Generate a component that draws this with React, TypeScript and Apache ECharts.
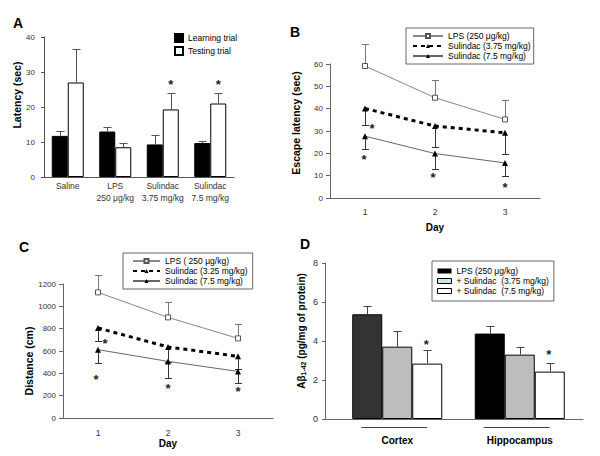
import React, { useEffect, useRef } from "react";
import * as echarts from "echarts";

const FONT = "'Liberation Sans', Arial, sans-serif";

// ---- Panel A ----
const aCategories = ["Saline", "LPS\n250 μg/kg", "Sulindac\n3.75 mg/kg", "Sulindac\n7.5 mg/kg"];
const aLearning = [11.75, 13.0, 9.3, 9.7];
const aLearningUpper = [13.2, 14.3, 12.0, 10.4];
const aTesting = [27.0, 8.5, 19.3, 21.0];
const aTestingUpper = [36.7, 9.8, 23.9, 23.9];
const aStarCats = [2, 3];
const aStarValues = [27.2, 27.2];

// ---- Panel B ----
const days = ["1", "2", "3"];
const bLPS = [59.1, 44.9, 35.2];
const bLPSUpper = [69, 52.8, 43.8];
const bSul375 = [40.1, 32.2, 29.2];
const bSul375Lower = [32.9, 22.7, 19.5];
const bSul75 = [27.7, 19.9, 15.7];
const bSul75Lower = [22.1, 13.2, 9.7];
const bStarDays = [0, 0, 1, 2];
const bStarValues = [32.6, 18.7, 10.6, 6.0];

// ---- Panel C ----
const cLPS = [1125, 901, 713];
const cLPSUpper = [1283, 1035, 842];
const cSul325 = [806, 636, 552];
const cSul325Lower = [692, 505, 440];
const cSul75 = [612, 507, 417];
const cSul75Lower = [492, 358, 313];
const cStarDays = [0, 0, 1, 2];
const cStarValues = [690, 376, 295, 260];

// ---- Panel D ----
const regions = ["Cortex", "Hippocampus"];
const dLPS = [5.37, 4.38];
const dLPSUpper = [5.78, 4.75];
const dSul375 = [3.71, 3.3];
const dSul375Upper = [4.51, 3.71];
const dSul75 = [2.84, 2.43];
const dSul75Upper = [3.52, 2.87];
const dStarRegions = [0, 1];
const dStarValues = [3.95, 3.44];

// style-only constants
const dLPSColors = ["#333333", "#000000"];
const bStarShift = [7, -1, -2, 0];
const cStarShift = [7, -2, 0, 0];

const stripName = (n: string) => n.slice(2);

const errSeries = (axis: number, base: number[], end: number[], dx: number, color: string, cap = 8) => ({
  type: "custom",
  xAxisIndex: axis,
  yAxisIndex: axis,
  z: 3,
  silent: true,
  clip: false,
  data: base.map((v, i) => [i, v, end[i]]),
  renderItem: (params: any, api: any) => {
    const p0 = api.coord([api.value(0), api.value(1)]);
    const p1 = api.coord([api.value(0), api.value(2)]);
    const x = Math.round(p0[0] + dx) + 0.5;
    const y1 = Math.round(p1[1]) + 0.5;
    return {
      type: "group",
      children: [
        { type: "line", shape: { x1: x, y1: p0[1], x2: x, y2: y1 }, style: { stroke: color, lineWidth: 1 } },
        { type: "line", shape: { x1: x - cap / 2, y1: y1, x2: x + cap / 2, y2: y1 }, style: { stroke: color, lineWidth: 1 } },
      ],
    };
  },
});

const starSeries = (axis: number, cats: number[], vals: number[], shifts: number[]) => ({
  type: "custom",
  xAxisIndex: axis,
  yAxisIndex: axis,
  z: 6,
  silent: true,
  clip: false,
  data: cats.map((c, i) => [c, vals[i]]),
  renderItem: (params: any, api: any) => {
    const p = api.coord([api.value(0), api.value(1)]);
    return {
      type: "text",
      x: p[0] + shifts[params.dataIndex],
      y: p[1] + 3,
      style: {
        text: "*",
        fill: "#222",
        fontSize: 13,
        fontWeight: "bold",
        fontFamily: FONT,
        align: "center",
        verticalAlign: "middle",
      },
    };
  },
});

const yLabel = { fontSize: 8, color: "#333", fontFamily: FONT, formatter: (v: number) => String(v) };
const axisLineStyle = { lineStyle: { color: "#666", width: 1 } };
const nameStyle = (size: number, gap: number) => ({
  fontSize: size,
  fontWeight: "bold",
  color: "#000",
  fontFamily: FONT,
  rich: {
    gap: { width: gap, fontSize: size },
    sub: { fontSize: 7, fontWeight: "bold", fontFamily: FONT, padding: [4, 0, 0, 0] },
  },
});

const legendText = { fontSize: 8.5, lineHeight: 10, color: "#000", fontFamily: FONT };

export default function App() {
  const ref = useRef<HTMLDivElement>(null);
  useEffect(() => {
    if (!ref.current) return;
    const chart = echarts.init(ref.current, undefined, { renderer: "svg" });
    const option: any = {
      animation: false,
      backgroundColor: "#fff",
      textStyle: { fontFamily: FONT },
      grid: [
        { left: 44, top: 37, width: 190, height: 140 },
        { left: 330, top: 64, width: 210, height: 134 },
        { left: 63, top: 284, width: 210, height: 134 },
        { left: 325, top: 263, width: 258, height: 156 },
        { left: 336, top: 263, width: 245, height: 156 },
      ],
      xAxis: [
        {
          gridIndex: 0,
          type: "category",
          data: aCategories,
          axisLine: { lineStyle: { color: "#555" } },
          axisTick: { show: false },
          axisLabel: { interval: 0, fontSize: 8.5, color: "#333", lineHeight: 12, margin: 3, fontFamily: FONT },
        },
        {
          gridIndex: 1,
          type: "category",
          data: days,
          axisLine: axisLineStyle,
          axisTick: { length: 3, lineStyle: { color: "#666" } },
          axisLabel: { fontSize: 8.5, color: "#333", margin: 9, fontFamily: FONT },
          name: "Day",
          nameLocation: "middle",
          nameGap: 24,
          nameTextStyle: { fontSize: 10, fontWeight: "bold", color: "#000", fontFamily: FONT },
        },
        {
          gridIndex: 2,
          type: "category",
          data: days,
          axisLine: axisLineStyle,
          axisTick: { length: 3, lineStyle: { color: "#666" } },
          axisLabel: { fontSize: 8.5, color: "#333", margin: 10, fontFamily: FONT },
          name: "Day",
          nameLocation: "middle",
          nameGap: 20,
          nameTextStyle: { fontSize: 10, fontWeight: "bold", color: "#000", fontFamily: FONT },
        },
        {
          gridIndex: 3,
          type: "category",
          data: [""],
          axisLine: axisLineStyle,
          axisTick: { show: false },
          axisLabel: { show: false },
        },
        {
          gridIndex: 4,
          type: "category",
          data: regions,
          axisLine: { show: false },
          axisTick: { show: false },
          axisLabel: { fontSize: 10, fontWeight: "bold", color: "#000", margin: 16, fontFamily: FONT },
        },
      ],
      yAxis: [
        {
          gridIndex: 0,
          type: "value",
          min: 0,
          max: 40,
          interval: 10,
          splitLine: { show: false },
          axisLine: { show: true, lineStyle: { color: "#555" } },
          axisTick: { show: true, length: 3 },
          axisLabel: { ...yLabel, margin: 9 },
          name: "{gap|}Latency (sec)",
          nameLocation: "middle",
          nameGap: 12,
          nameTextStyle: nameStyle(10.5, 24),
        },
        {
          gridIndex: 1,
          type: "value",
          min: 0,
          max: 60,
          interval: 10,
          splitLine: { show: false },
          axisLine: { show: true, ...axisLineStyle },
          axisTick: { show: true, length: 4 },
          axisLabel: { ...yLabel, margin: 7 },
          name: "{gap|}Escape latency (sec)",
          nameLocation: "middle",
          nameGap: 29,
          nameTextStyle: nameStyle(10.5, 16),
        },
        {
          gridIndex: 2,
          type: "value",
          min: 0,
          max: 1200,
          interval: 200,
          splitLine: { show: false },
          axisLine: { show: true, ...axisLineStyle },
          axisTick: { show: true, length: 4 },
          axisLabel: { ...yLabel, margin: 7 },
          name: "Distance (cm){gap|}",
          nameLocation: "middle",
          nameGap: 26,
          nameTextStyle: nameStyle(10.5, 20),
        },
        {
          gridIndex: 3,
          type: "value",
          min: 0,
          max: 8,
          interval: 2,
          splitLine: { show: false },
          axisLine: { show: true, ...axisLineStyle },
          axisTick: { show: true, length: 3 },
          axisLabel: { ...yLabel, fontSize: 9, margin: 7 },
          name: "{gap|}Aβ{sub|1-42} (pg/mg of protein)",
          nameLocation: "middle",
          nameGap: 18,
          nameTextStyle: nameStyle(10, 20),
        },
        { gridIndex: 4, type: "value", min: 0, max: 8, interval: 2, show: false },
      ],
      legend: [
        {
          left: 174,
          top: 33,
          orient: "vertical",
          icon: "rect",
          itemWidth: 8,
          itemHeight: 8,
          itemGap: 3,
          padding: 0,
          selectedMode: false,
          data: ["A:Learning trial", "A:Testing trial"],
          formatter: stripName,
          textStyle: legendText,
        },
        {
          left: 406,
          top: 28,
          orient: "vertical",
          itemWidth: 30,
          itemHeight: 5,
          itemGap: 0,
          padding: [3, 3, 3, 6],
          borderColor: "#666",
          borderWidth: 1,
          selectedMode: false,
          data: ["B:LPS (250 μg/kg)", "B:Sulindac (3.75 mg/kg)", "B:Sulindac (7.5 mg/kg)"],
          formatter: stripName,
          textStyle: legendText,
        },
        {
          left: 123,
          top: 253,
          orient: "vertical",
          itemWidth: 27,
          itemHeight: 5,
          itemGap: 0,
          padding: [3, 5, 3, 9],
          borderColor: "#666",
          borderWidth: 1,
          selectedMode: false,
          data: ["C:LPS ( 250 μg/kg)", "C:Sulindac (3.25 mg/kg)", "C:Sulindac (7.5 mg/kg)"],
          formatter: stripName,
          textStyle: legendText,
        },
        {
          left: 432,
          top: 261,
          orient: "vertical",
          icon: "rect",
          itemWidth: 14,
          itemHeight: 5,
          itemGap: 0,
          padding: [5, 5, 5, 5],
          borderColor: "#666",
          borderWidth: 1,
          selectedMode: false,
          data: [
            { name: "D:LPS (250 μg/kg)", itemStyle: { color: "#000", borderWidth: 0 } },
            { name: "D:+ Sulindac  (3.75 mg/kg)", itemStyle: { color: "#cfe4e6", borderColor: "#000", borderWidth: 1 } },
            { name: "D:+ Sulindac  (7.5 mg/kg)", itemStyle: { color: "#fff", borderColor: "#000", borderWidth: 1 } },
          ],
          formatter: stripName,
          textStyle: legendText,
        },
      ],
      graphic: [
        { type: "text", left: 13, top: 16, style: { text: "A", fontSize: 14, fontWeight: "bold", fontFamily: FONT, fill: "#000" } },
        { type: "text", left: 290, top: 25, style: { text: "B", fontSize: 14, fontWeight: "bold", fontFamily: FONT, fill: "#000" } },
        { type: "text", left: 19, top: 240, style: { text: "C", fontSize: 14, fontWeight: "bold", fontFamily: FONT, fill: "#000" } },
        { type: "text", left: 300, top: 237, style: { text: "D", fontSize: 14, fontWeight: "bold", fontFamily: FONT, fill: "#000" } },
      ],
      series: [
        // Panel A
        {
          name: "A:Learning trial",
          type: "bar",
          xAxisIndex: 0,
          yAxisIndex: 0,
          barWidth: 16,
          barGap: "0%",
          data: aLearning,
          itemStyle: { color: "#000", borderColor: "#000", borderWidth: 1 },
        },
        {
          name: "A:Testing trial",
          type: "bar",
          xAxisIndex: 0,
          yAxisIndex: 0,
          barWidth: 16,
          barGap: "0%",
          data: aTesting,
          itemStyle: { color: "#fff", borderColor: "#000", borderWidth: 1 },
        },
        errSeries(0, aLearning, aLearningUpper, -8, "#555"),
        errSeries(0, aTesting, aTestingUpper, 8, "#555"),
        starSeries(0, aStarCats, aStarValues, [8, 8]),

        // Panel B
        errSeries(1, bLPS, bLPSUpper, 0, "#777", 7),
        errSeries(1, bSul375, bSul375Lower, 0, "#333", 7),
        errSeries(1, bSul75, bSul75Lower, 0, "#333", 7),
        {
          name: "B:LPS (250 μg/kg)",
          type: "line",
          xAxisIndex: 1,
          yAxisIndex: 1,
          data: bLPS,
          symbol: "rect",
          symbolSize: 5,
          itemStyle: { color: "#fff", borderColor: "#555", borderWidth: 1 },
          lineStyle: { color: "#888", width: 1 },
        },
        {
          name: "B:Sulindac (3.75 mg/kg)",
          type: "line",
          xAxisIndex: 1,
          yAxisIndex: 1,
          data: bSul375,
          symbol: "triangle",
          symbolSize: 6,
          itemStyle: { color: "#000" },
          lineStyle: { color: "#000", width: 3, type: [4, 4] },
        },
        {
          name: "B:Sulindac (7.5 mg/kg)",
          type: "line",
          xAxisIndex: 1,
          yAxisIndex: 1,
          data: bSul75,
          symbol: "triangle",
          symbolSize: 6,
          itemStyle: { color: "#000" },
          lineStyle: { color: "#666", width: 1 },
        },
        starSeries(1, bStarDays, bStarValues, bStarShift),

        // Panel C
        errSeries(2, cLPS, cLPSUpper, 0, "#777", 7),
        errSeries(2, cSul325, cSul325Lower, 0, "#333", 7),
        errSeries(2, cSul75, cSul75Lower, 0, "#333", 7),
        {
          name: "C:LPS ( 250 μg/kg)",
          type: "line",
          xAxisIndex: 2,
          yAxisIndex: 2,
          data: cLPS,
          symbol: "rect",
          symbolSize: 5,
          itemStyle: { color: "#fff", borderColor: "#555", borderWidth: 1 },
          lineStyle: { color: "#888", width: 1 },
        },
        {
          name: "C:Sulindac (3.25 mg/kg)",
          type: "line",
          xAxisIndex: 2,
          yAxisIndex: 2,
          data: cSul325,
          symbol: "triangle",
          symbolSize: 6,
          itemStyle: { color: "#000" },
          lineStyle: { color: "#000", width: 3, type: [4, 4] },
        },
        {
          name: "C:Sulindac (7.5 mg/kg)",
          type: "line",
          xAxisIndex: 2,
          yAxisIndex: 2,
          data: cSul75,
          symbol: "triangle",
          symbolSize: 6,
          itemStyle: { color: "#000" },
          lineStyle: { color: "#666", width: 1 },
        },
        starSeries(2, cStarDays, cStarValues, cStarShift),

        // Panel D
        {
          name: "D:LPS (250 μg/kg)",
          type: "bar",
          xAxisIndex: 4,
          yAxisIndex: 4,
          barWidth: 30,
          barGap: "0%",
          data: dLPS.map((v, i) => ({ value: v, itemStyle: { color: dLPSColors[i] } })),
          itemStyle: { color: "#000", borderColor: "#000", borderWidth: 1 },
        },
        {
          name: "D:+ Sulindac  (3.75 mg/kg)",
          type: "bar",
          xAxisIndex: 4,
          yAxisIndex: 4,
          barWidth: 30,
          barGap: "0%",
          data: dSul375,
          itemStyle: { color: "#bdbdbd", borderColor: "#000", borderWidth: 1 },
        },
        {
          name: "D:+ Sulindac  (7.5 mg/kg)",
          type: "bar",
          xAxisIndex: 4,
          yAxisIndex: 4,
          barWidth: 30,
          barGap: "0%",
          data: dSul75,
          itemStyle: { color: "#fff", borderColor: "#000", borderWidth: 1 },
        },
        errSeries(4, dLPS, dLPSUpper, -30, "#444", 8),
        errSeries(4, dSul375, dSul375Upper, 0, "#444", 8),
        errSeries(4, dSul75, dSul75Upper, 30, "#444", 8),
        starSeries(4, dStarRegions, dStarValues, [29, 29]),
        {
          type: "custom",
          xAxisIndex: 4,
          yAxisIndex: 4,
          silent: true,
          clip: false,
          data: regions.map((_, i) => [i, 0]),
          renderItem: (params: any, api: any) => {
            const p = api.coord([api.value(0), 0]);
            const y = Math.round(p[1] + 8) + 0.5;
            return {
              type: "line",
              shape: { x1: p[0] - 36, y1: y, x2: p[0] + 30, y2: y },
              style: { stroke: "#444", lineWidth: 1 },
            };
          },
        },
      ],
    };
    chart.setOption(option);
    return () => chart.dispose();
  }, []);
  return (
    <div
      ref={ref}
      style={{ position: "absolute", left: 0, top: 0, width: 600, height: 456, background: "#fff" }}
    />
  );
}
